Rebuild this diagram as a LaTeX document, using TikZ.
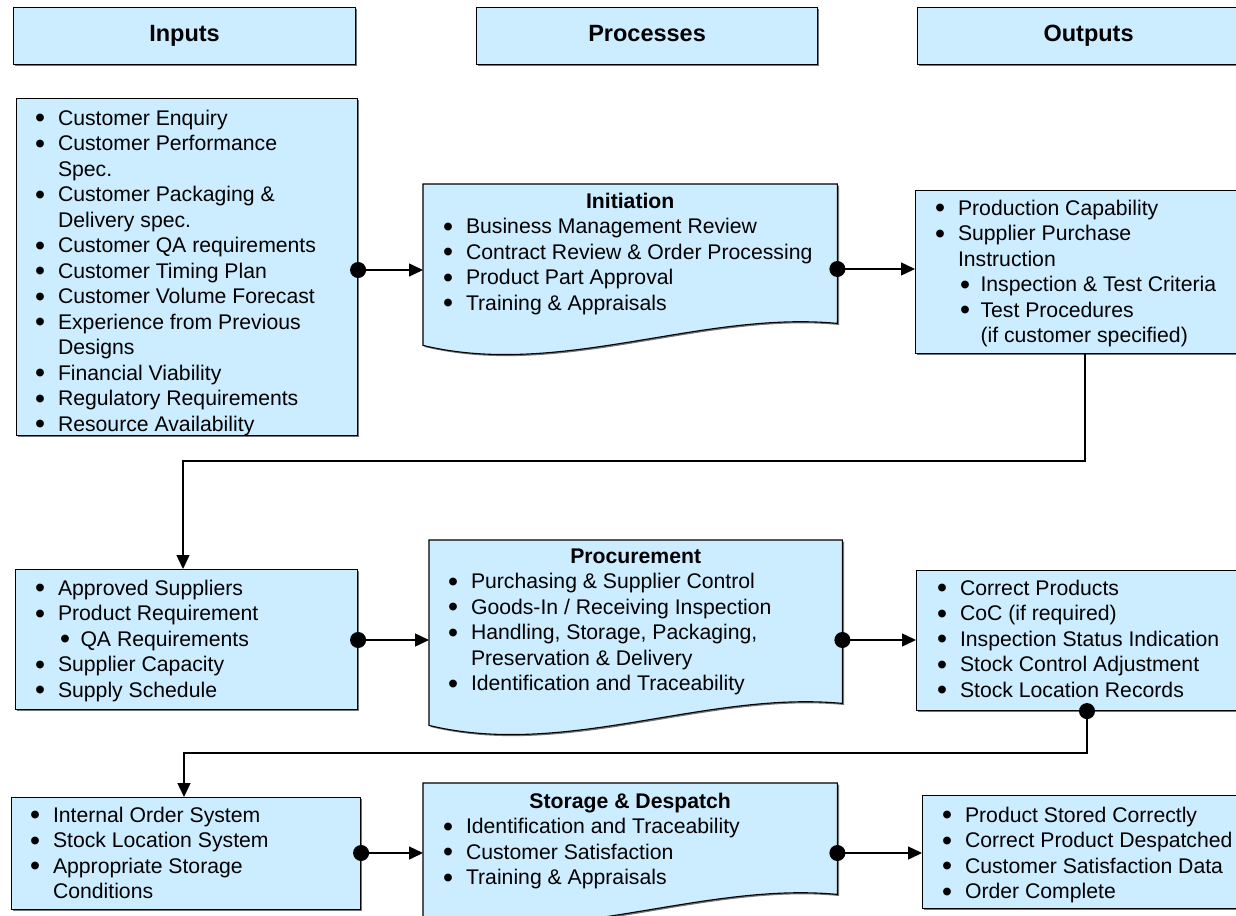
\documentclass[tikz,border=0pt]{standalone}
\usepackage{fontspec}
\usepackage{graphicx}
\setmainfont{Liberation Sans}
\usetikzlibrary{arrows.meta,calc,shadows}
\definecolor{boxfill}{RGB}{204,236,255}
\newcommand{\bigbul}{\smash{\raisebox{-2.6pt}{\scalebox{1.35}{\textbullet}}}}
\newcommand{\bl}[1]{\strut\makebox[22.8pt][l]{\bigbul}#1}
\newcommand{\cl}[1]{\strut\hspace*{22.8pt}#1}
\newcommand{\sbl}[1]{\strut\hspace*{25pt}\makebox[20.3pt][l]{\bigbul}#1}
\newcommand{\scl}[1]{\strut\hspace*{45.3pt}#1}
\tikzset{
 shadowed/.style={drop shadow={shadow xshift=1.6pt,shadow yshift=-1.6pt,fill=black!55,opacity=1}},
 box/.style={draw=black, line width=1.1pt, fill=boxfill, inner sep=0pt, anchor=north west, shadowed},
 doc/.style={draw=black, line width=1.1pt, fill=boxfill, shadowed},
 frame/.style={draw=none, inner sep=0pt, anchor=north west},
 txt/.style={anchor=north west, inner sep=0pt, align=left, font=\fontsize{21.2}{25.5}\selectfont},
 ttl/.style={anchor=base, inner sep=0pt, font=\fontsize{21.2}{25.5}\selectfont\bfseries},
 hdr/.style={anchor=base, inner sep=0pt, font=\fontsize{23.5}{28}\selectfont\bfseries},
 conn/.style={line width=1.4pt, -{Triangle[length=14pt,width=13pt]}},
 dotconn/.style={line width=1.4pt, {Circle[length=16pt]}-{Triangle[length=14pt,width=13pt]}, shorten <=-8pt},
}
\begin{document}
\begin{tikzpicture}[x=1pt,y=-1pt]
\useasboundingbox (0,0) rectangle (1236,915);
% header boxes
\node[box, minimum width=342pt, minimum height=57pt] (h1) at (13,7) {};
\node[box, minimum width=341pt, minimum height=57pt] (h2) at (476,7) {};
\node[box, minimum width=342pt, minimum height=57pt] (h3) at (917,7) {};
\node[hdr] (th1) at ($(h1.north)+(0,35)$) {Inputs};
\node[hdr] (th2) at ($(h2.north)+(0,35)$) {Processes};
\node[hdr] (th3) at ($(h3.north)+(0,35)$) {Outputs};
% row 1
\node[box, minimum width=341pt, minimum height=337pt] (i1) at (16,98) {};
\node[frame, minimum width=414pt, minimum height=139pt] (p1) at (423,184) {};
\path[doc] (p1.north west) -- (p1.north east) -- (p1.south east) .. controls +(-137,-13) and +(137,33) .. ($(p1.south west)+(0,22)$) -- cycle;
\node[box, minimum width=340pt, minimum height=163pt] (o1) at (915,190) {};
% row 2
\node[box, minimum width=342pt, minimum height=140pt] (i2) at (15,569) {};
\node[frame, minimum width=413pt, minimum height=163pt] (p2) at (429,540) {};
\path[doc] (p2.north west) -- (p2.north east) -- (p2.south east) .. controls +(-137,-13) and +(137,33) .. ($(p2.south west)+(0,22)$) -- cycle;
\node[box, minimum width=340pt, minimum height=140pt] (o2) at (916,570) {};
% row 3
\node[box, minimum width=349pt, minimum height=112pt] (i3) at (11,797) {};
\node[frame, minimum width=414pt, minimum height=111pt] (p3) at (423,783) {};
\path[doc] (p3.north west) -- (p3.north east) -- (p3.south east) .. controls +(-137,-13) and +(137,33) .. ($(p3.south west)+(0,22)$) -- cycle;
\node[box, minimum width=340pt, minimum height=113pt] (o3) at (922,795) {};
% bend points
\coordinate (b1) at (1085,461);
\coordinate (b2) at (183,461);
\coordinate (b3) at (1087,753);
\coordinate (b4) at (184,753);
% connectors
\draw[dotconn] (i1.east |- 0,270) -- (p1.west |- 0,270);
\draw[dotconn] (p1.east |- 0,269) -- (o1.west |- 0,269);
\draw[conn] (o1.south -| b1) -- (b1) -- (b2) -- (i2.north -| b2);
\draw[dotconn] (i2.east |- 0,640) -- (p2.west |- 0,640);
\draw[dotconn] (p2.east |- 0,640) -- (o2.west |- 0,640);
\draw[dotconn] (o2.south -| b3) -- (b3) -- (b4) -- (i3.north -| b4);
\draw[dotconn] (i3.east |- 0,853) -- (p3.west |- 0,853);
\draw[dotconn] (p3.east |- 0,853) -- (o3.west |- 0,853);
% texts
\node[txt] (ti1) at (35,107.15) {\bl{Customer Enquiry}\\ \bl{Customer Performance}\\ \cl{Spec.}\\ \bl{Customer Packaging \&}\\ \cl{Delivery spec.}\\ \bl{Customer QA requirements}\\ \bl{Customer Timing Plan}\\ \bl{Customer Volume Forecast}\\ \bl{Experience from Previous}\\ \cl{Designs}\\ \bl{Financial Viability}\\ \bl{Regulatory Requirements}\\ \bl{Resource Availability}};
\node[ttl] (tp1t) at (p1.north |- 0,208) {Initiation};
\node[txt] (tp1) at (443,215.65) {\bl{Business Management Review}\\ \bl{Contract Review \& Order Processing}\\ \bl{Product Part Approval}\\ \bl{Training \& Appraisals}};
\node[txt] (to1) at (935,197.15) {\bl{Production Capability}\\ \bl{Supplier Purchase}\\ \cl{Instruction}\\ \sbl{Inspection \& Test Criteria}\\ \sbl{Test Procedures}\\ \scl{(if customer specified)}};
\node[txt] (ti2) at (35,577.15) {\bl{Approved Suppliers}\\ \bl{Product Requirement}\\ \sbl{QA Requirements}\\ \bl{Supplier Capacity}\\ \bl{Supply Schedule}};
\node[ttl] (tp2t) at (p2.north |- 0,563) {Procurement};
\node[txt] (tp2) at (448,570.65) {\bl{Purchasing \& Supplier Control}\\ \bl{Goods-In / Receiving Inspection}\\ \bl{Handling, Storage, Packaging,}\\ \cl{Preservation \& Delivery}\\ \bl{Identification and Traceability}};
\node[txt] (to2) at (937,577.15) {\bl{Correct Products}\\ \bl{CoC (if required)}\\ \bl{Inspection Status Indication}\\ \bl{Stock Control Adjustment}\\ \bl{Stock Location Records}};
\node[txt] (ti3) at (30,804.15) {\bl{Internal Order System}\\ \bl{Stock Location System}\\ \bl{Appropriate Storage}\\ \cl{Conditions}};
\node[ttl] (tp3t) at (p3.north |- 0,808) {Storage \& Despatch};
\node[txt] (tp3) at (443,815.65) {\bl{Identification and Traceability}\\ \bl{Customer Satisfaction}\\ \bl{Training \& Appraisals}};
\node[txt] (to3) at (942,804.15) {\bl{Product Stored Correctly}\\ \bl{Correct Product Despatched}\\ \bl{Customer Satisfaction Data}\\ \bl{Order Complete}};
\end{tikzpicture}
\end{document}
